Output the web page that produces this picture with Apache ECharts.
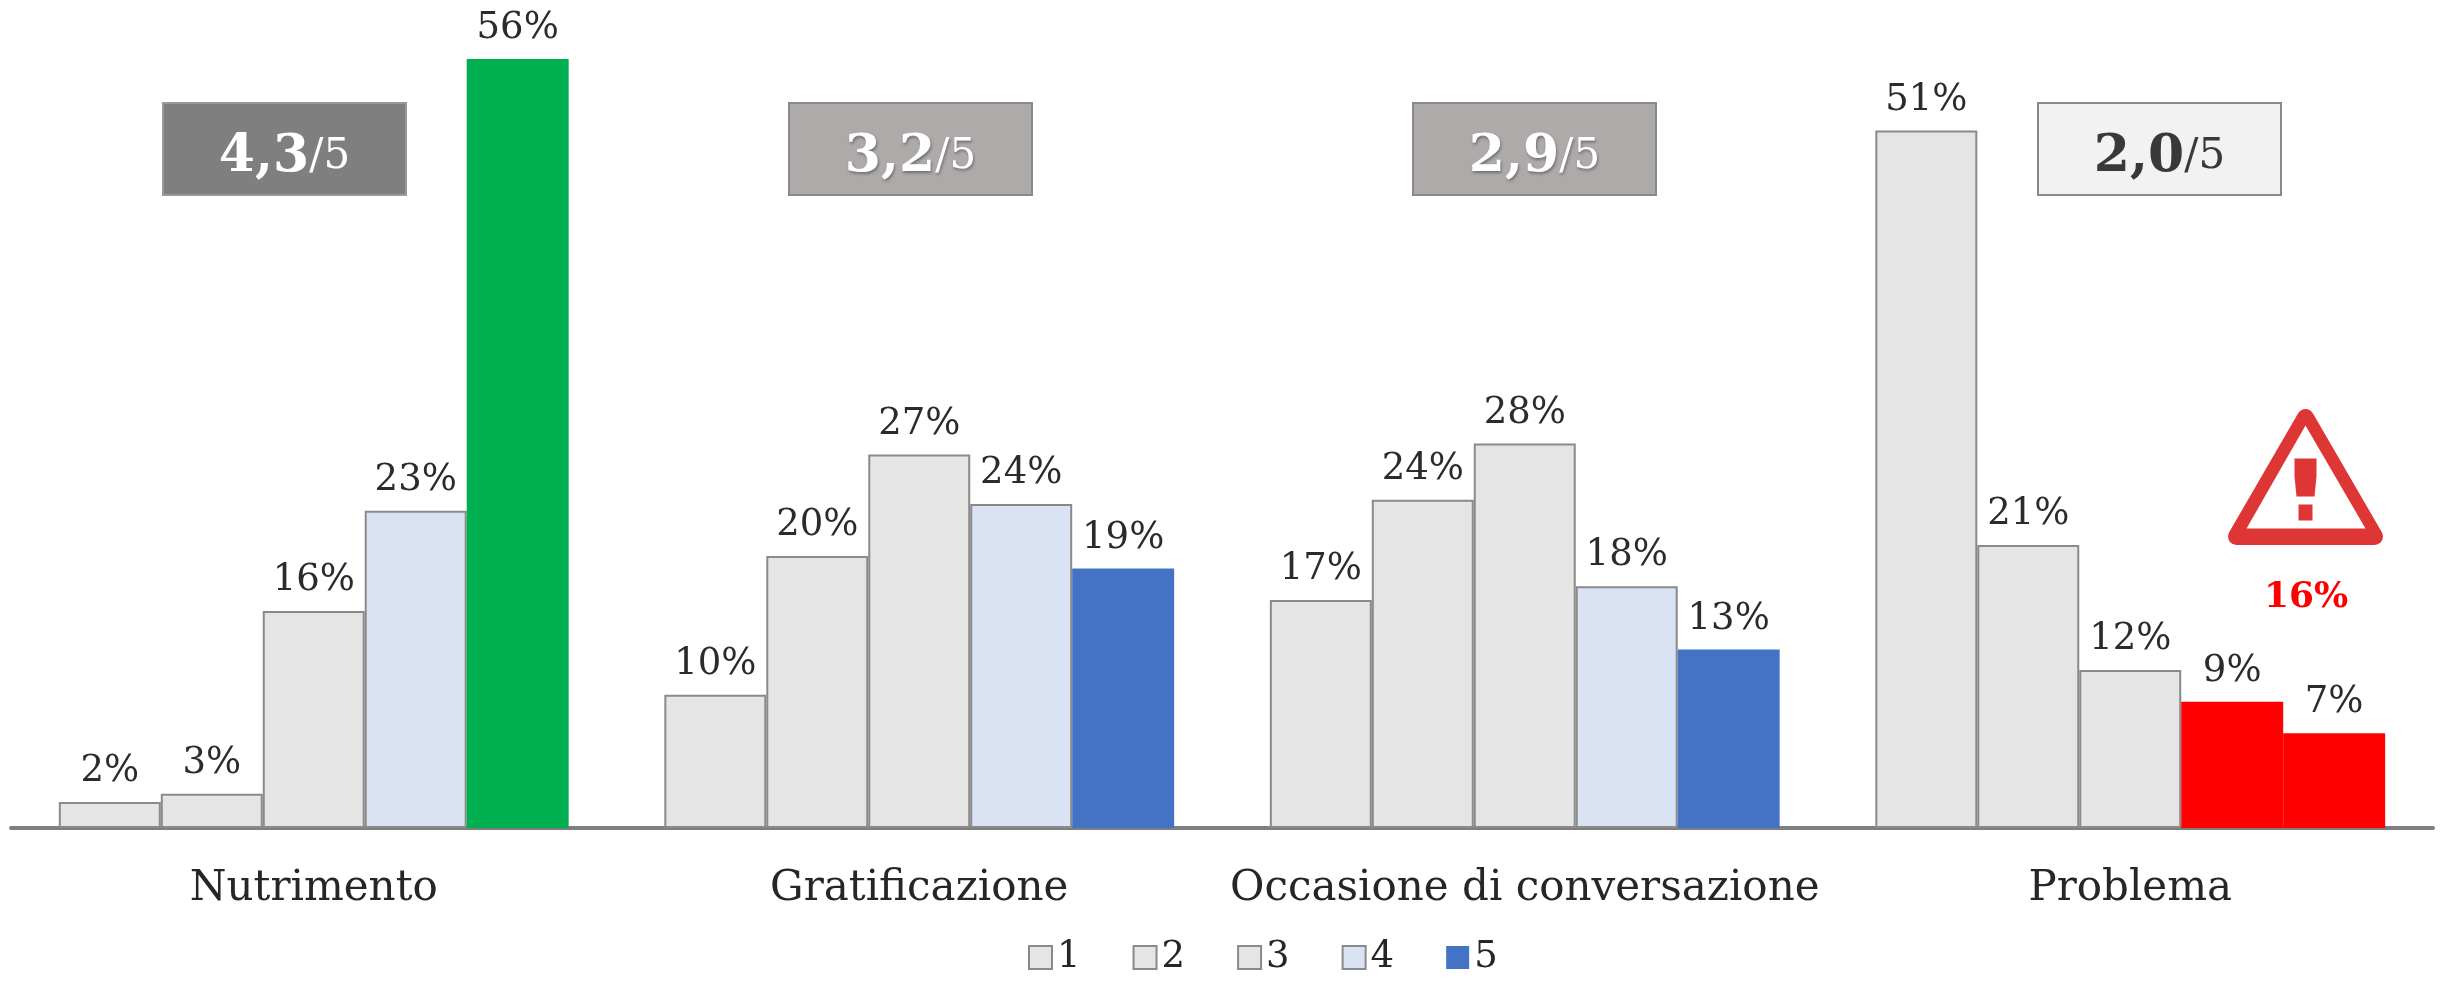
<!DOCTYPE html>
<html>
<head>
<meta charset="utf-8">
<style>
  html, body { margin: 0; padding: 0; background: #ffffff; }
  #chart { width: 2443px; height: 985px; }
</style>
<script src="https://cdn.jsdelivr.net/npm/echarts@6/dist/echarts.min.js"></script>
</head>
<body>
<div id="chart"></div>
<script>
const categories = ['Nutrimento', 'Gratificazione', 'Occasione di conversazione', 'Problema']
const seriesNames = ['1', '2', '3', '4', '5']
// bar heights, labels show them rounded
const values1 = [1.9, 9.7, 16.6, 50.8]
const values2 = [2.5, 19.8, 23.9, 20.6]
const values3 = [15.8, 27.2, 28, 11.5]
const values4 = [23.1, 23.6, 17.6, 9.2]
const values5 = [56, 18.9, 13, 6.9]
const scoreValues = ['4,3', '3,2', '2,9', '2,0']
const alertValue = '16%'

const FONT = '"DejaVu Serif"'
const GREY = '#E5E5E5'
const PALE = '#DAE3F3'
const BLUE = '#4472C4'
const GREEN = '#00B050'
const RED = '#FF0000'
const EDGE = '#8A8A8A'
const ALERT = '#DE3535'

const seriesColors = [GREY, GREY, GREY, PALE, BLUE]
const seriesData = [values1, values2, values3, values4, values5]

// bars that break from their series colour
const overrides = {
  '4-0': GREEN,
  '3-3': RED,
  '4-3': RED,
}

const series = seriesData.map((vals, s) => {
  const flat = seriesColors[s] === BLUE
  return {
    name: seriesNames[s],
    type: 'bar',
    barGap: 0,
    barCategoryGap: '15.8%',
    itemStyle: {
      color: seriesColors[s],
      borderColor: flat ? 'transparent' : EDGE,
      borderWidth: flat ? 0 : 2,
    },
    label: {
      show: true,
      position: 'top',
      distance: 12,
      formatter: (p) => `${Math.round(p.value)}%`,
      fontFamily: FONT,
      fontSize: 37,
      color: '#2b2b2b',
    },
    data: vals.map((v, c) => {
      const col = overrides[s + '-' + c]
      if (!col) return v
      return { value: v, itemStyle: { color: col, borderWidth: 0 } }
    }),
  }
})

// score badges above each group
const badgeLeft = [162, 788, 1412, 2037]
const badgeFill = ['#7F7F7F', '#AEAAAA', '#AEAAAA', '#F2F2F2']
const badgeText = ['#FFFFFF', '#FFFFFF', '#FFFFFF', '#3B3838']
const badgeEdge = ['#9A9A9A', EDGE, EDGE, EDGE]

const badges = scoreValues.map((score, i) => ({
  type: 'rect',
  left: badgeLeft[i],
  top: 102,
  shape: { width: 243, height: 92 },
  style: { fill: badgeFill[i], stroke: badgeEdge[i], lineWidth: 2 },
  textContent: {
    style: {
      text: `{b|${score}}{r|/5}`,
      rich: {
        b: { fontFamily: FONT, fontWeight: 'bold', fontSize: 52, fill: badgeText[i], color: badgeText[i] },
        r: { fontFamily: FONT, fontSize: 42, fill: badgeText[i], color: badgeText[i] },
      },
      textShadowColor: i === 0 || i === 3 ? 'transparent' : 'rgba(0,0,0,0.35)',
      textShadowBlur: 3,
      textShadowOffsetX: 1,
      textShadowOffsetY: 2,
    },
  },
  textConfig: { position: 'inside', offset: [0, 8] },
}))

const warning = {
  type: 'group',
  left: 2228,
  top: 409,
  children: [
    {
      type: 'polygon',
      shape: { points: [[78, 12], [9, 131], [147, 131]] },
      style: { fill: ALERT, stroke: ALERT, lineWidth: 17, lineJoin: 'round' },
    },
    {
      type: 'polygon',
      shape: { points: [[78, 20], [19, 123], [138, 123]] },
      style: { fill: '#ffffff' },
    },
    {
      type: 'polygon',
      shape: { points: [[67, 53], [89, 53], [89, 71], [87, 91], [69, 91], [67, 71]] },
      style: { fill: ALERT },
    },
    {
      type: 'rect',
      shape: { x: 71, y: 99, width: 14, height: 16 },
      style: { fill: ALERT },
    },
  ],
}

const alertText = {
  type: 'text',
  left: 2264,
  top: 580,
  style: {
    text: alertValue,
    fontFamily: FONT,
    fontWeight: 'bold',
    fontSize: 36,
    fill: RED,
  },
}

const myChart = echarts.init(document.getElementById('chart'), null, { renderer: 'canvas' })
myChart.setOption({
  backgroundColor: '#ffffff',
  animation: false,
  grid: { left: 11, right: 10, top: 59, bottom: 157 },
  legend: {
    data: seriesNames,
    left: 1023,
    top: 934,
    icon: 'rect',
    itemWidth: 23,
    itemHeight: 23,
    itemGap: 52,
    selectedMode: false,
    textStyle: { fontFamily: FONT, fontSize: 37, color: '#262626', padding: [8, 0, 0, 0] },
  },
  xAxis: {
    type: 'category',
    data: categories,
    axisTick: { show: false },
    axisLine: { lineStyle: { color: '#7F7F7F', width: 4 } },
    axisLabel: {
      margin: 40,
      fontFamily: FONT,
      fontSize: 42,
      color: '#262626',
      interval: 0,
    },
  },
  yAxis: {
    type: 'value',
    min: 0,
    max: 56,
    show: false,
    splitLine: { show: false },
  },
  series: series,
  graphic: [...badges, warning, alertText],
})
</script>
</body>
</html>
